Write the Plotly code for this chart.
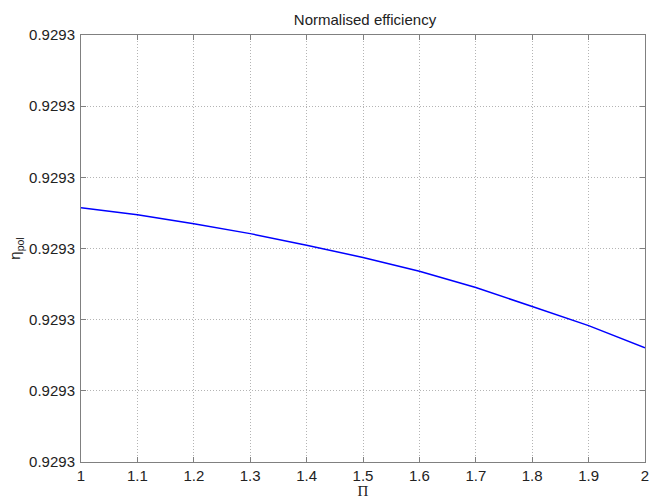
import plotly.graph_objects as go

# Data
pi_ratio = [1.0, 1.1, 1.2, 1.3, 1.4, 1.5, 1.6, 1.7, 1.8, 1.9, 2.0]
# efficiency offsets (in units of 1e-6 above the base)
eta_offset = [3.572, 3.474, 3.349, 3.209, 3.046, 2.874, 2.679, 2.451, 2.186, 1.916, 1.605]
base = 0.929296
eta = [base + v * 1e-6 for v in eta_offset]

y_ticks = [base + k * 1e-6 for k in range(7)]
x_ticks = [1.0, 1.1, 1.2, 1.3, 1.4, 1.5, 1.6, 1.7, 1.8, 1.9, 2.0]
x_ticklabels = ["1", "1.1", "1.2", "1.3", "1.4", "1.5", "1.6", "1.7", "1.8", "1.9", "2"]

fig = go.Figure()
fig.add_trace(go.Scatter(x=pi_ratio, y=eta, mode="lines",
                         line=dict(color="#0000ff", width=1.5), showlegend=False))

font_family = "Liberation Sans, Arial, sans-serif"
fig.update_layout(
    width=650, height=499,
    margin=dict(l=81, r=1, t=35, b=34),
    paper_bgcolor="white", plot_bgcolor="white",
    font=dict(family=font_family, size=15, color="#222222"),
    title=dict(text="Normalised efficiency", x=(81 + 649) / 2 / 650, xanchor="center",
               y=1 - 25 / 499, yanchor="bottom", font=dict(size=15, color="#222222")),
)
axis_common = dict(
    showline=True, linecolor="#808080", linewidth=1, mirror="ticks",
    ticks="inside", ticklen=5, tickcolor="#808080",
    showgrid=True, gridcolor="#b4b4b4", griddash="1px,2px", gridwidth=1,
    zeroline=False, ticklabeloverflow="allow",
)
fig.update_xaxes(range=[1, 2], tickvals=x_ticks, ticktext=x_ticklabels,
                 title=dict(text="Π", standoff=3,
                            font=dict(size=15, family="Liberation Serif, Times New Roman, serif")),
                 **axis_common)
fig.update_yaxes(range=[y_ticks[0], y_ticks[-1]], tickvals=y_ticks, tickformat=".4f",
                 ticklabelstandoff=2,
                 title=dict(text="η<sub>pol</sub>", standoff=4, font=dict(size=15)),
                 **axis_common)

fig.write_html("out.html")
